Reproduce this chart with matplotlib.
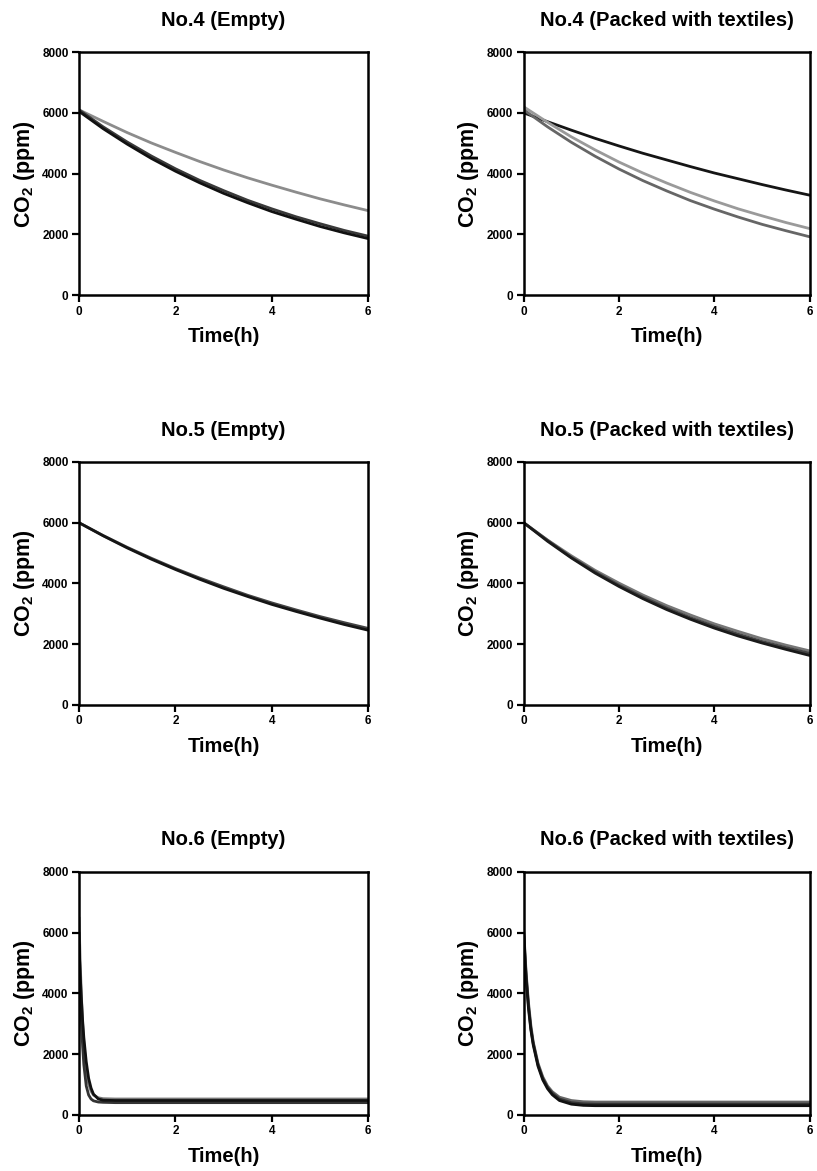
import matplotlib
matplotlib.use("Agg")
import matplotlib.pyplot as plt

plt.rcParams["font.family"] = ["Liberation Sans", "DejaVu Sans"]
plt.rcParams["font.weight"] = "bold"
plt.rcParams["mathtext.fontset"] = "custom"
plt.rcParams["mathtext.rm"] = "Liberation Sans:bold"
plt.rcParams["mathtext.bf"] = "Liberation Sans:bold"
plt.rcParams["mathtext.it"] = "Liberation Sans:bold"
plt.rcParams["mathtext.default"] = "bf"

# time grids (h)
t_half = [0, 0.5, 1, 1.5, 2, 2.5, 3, 3.5, 4, 4.5, 5, 5.5, 6]
t_fast6e = [0, 0.025, 0.05, 0.075, 0.1, 0.15, 0.2, 0.25, 0.3, 0.4, 0.5, 0.75, 1, 2, 4, 6]
t_fast6p = [0, 0.05, 0.1, 0.15, 0.2, 0.3, 0.4, 0.5, 0.6, 0.75, 1, 1.25, 1.5, 2, 3, 4, 6]

# No.4 empty
no4e_gray = [6100, 5720, 5350, 5010, 4700, 4400, 4120, 3860, 3620, 3390, 3170, 2970, 2780]
no4e_dark = [6100, 5540, 5040, 4580, 4160, 3780, 3440, 3120, 2840, 2580, 2350, 2130, 1940]
no4e_black = [6050, 5480, 4970, 4500, 4080, 3700, 3350, 3040, 2750, 2500, 2260, 2050, 1860]

# No.4 packed with textiles
no4p_black = [6000, 5710, 5430, 5160, 4910, 4670, 4450, 4230, 4020, 3830, 3640, 3460, 3290]
no4p_light = [6200, 5690, 5210, 4780, 4380, 4020, 3690, 3380, 3100, 2840, 2610, 2390, 2190]
no4p_mid = [6100, 5540, 5030, 4570, 4150, 3770, 3430, 3110, 2830, 2570, 2330, 2120, 1920]

# No.5 empty
no5e_dark = [6000, 5580, 5190, 4830, 4490, 4180, 3890, 3610, 3360, 3130, 2910, 2710, 2520]
no5e_black = [6000, 5570, 5170, 4800, 4460, 4140, 3840, 3570, 3310, 3080, 2860, 2650, 2460]

# No.5 packed with textiles
no5p_gray = [6000, 5430, 4910, 4430, 4010, 3620, 3270, 2960, 2670, 2420, 2180, 1970, 1780]
no5p_dark = [6000, 5420, 4860, 4380, 3940, 3550, 3190, 2870, 2590, 2330, 2090, 1890, 1700]
no5p_black = [6000, 5390, 4840, 4340, 3900, 3500, 3140, 2820, 2530, 2270, 2040, 1830, 1630]

# No.6 empty
no6e_gray = [6500, 5000, 3900, 3000, 2350, 1500, 1020, 780, 650, 560, 530, 520, 520, 520, 520, 520]
no6e_dark = [6000, 4300, 3100, 2250, 1650, 950, 650, 520, 460, 420, 410, 400, 400, 400, 400, 400]
no6e_black = [5600, 4600, 3800, 3100, 2550, 1750, 1200, 880, 680, 520, 480, 470, 470, 470, 470, 470]

# No.6 packed with textiles
no6p_gray = [6100, 4700, 3700, 2950, 2400, 1700, 1250, 950, 760, 580, 470, 430, 420, 420, 420, 420, 420]
no6p_dark = [6000, 4600, 3600, 2850, 2350, 1650, 1200, 900, 710, 520, 400, 360, 350, 350, 350, 350, 350]
no6p_black = [5900, 4500, 3500, 2800, 2300, 1600, 1150, 860, 660, 470, 350, 310, 300, 300, 300, 300, 300]

panels = [
    ("No.4 (Empty)", t_half, [(no4e_gray, "#8c8c8c"), (no4e_dark, "#3a3a3a"), (no4e_black, "#111111")]),
    ("No.4 (Packed with textiles)", t_half, [(no4p_black, "#151515"), (no4p_light, "#9a9a9a"), (no4p_mid, "#666666")]),
    ("No.5 (Empty)", t_half, [(no5e_dark, "#444444"), (no5e_black, "#151515")]),
    ("No.5 (Packed with textiles)", t_half, [(no5p_gray, "#777777"), (no5p_dark, "#444444"), (no5p_black, "#1a1a1a")]),
    ("No.6 (Empty)", t_fast6e, [(no6e_gray, "#777777"), (no6e_dark, "#333333"), (no6e_black, "#111111")]),
    ("No.6 (Packed with textiles)", t_fast6p, [(no6p_gray, "#666666"), (no6p_dark, "#333333"), (no6p_black, "#111111")]),
]

# axes rectangles in figure fractions
lefts = [0.0967, 0.641]
widths = [0.354, 0.350]
bottoms = [0.748, 0.398, 0.048]
height = 0.2075

fig = plt.figure(figsize=(8.17, 11.71), dpi=100)

for i, (title, t, curves) in enumerate(panels):
    row, col = divmod(i, 2)
    ax = fig.add_axes([lefts[col], bottoms[row], widths[col], height])
    for y, c in curves:
        ax.plot(t, y, color=c, lw=2, solid_capstyle="round")
    ax.set_xlim(0, 6)
    ax.set_ylim(0, 8000)
    ax.set_xticks([0, 2, 4, 6])
    ax.set_yticks([0, 2000, 4000, 6000, 8000])
    ax.tick_params(direction="out", length=5, width=1.6, labelsize=8.5, pad=2.5)
    for lab in ax.get_xticklabels() + ax.get_yticklabels():
        lab.set_fontweight("bold")
    for s in ax.spines.values():
        s.set_linewidth(1.8)
    ax.set_title(title, fontsize=14.5, fontweight="bold", pad=19)
    ax.set_xlabel("Time(h)", fontsize=14.5, fontweight="bold", labelpad=7)
    ax.set_ylabel("CO$_2$ (ppm)", fontsize=15.5, fontweight="bold", labelpad=4)

fig.savefig("out.png", dpi=100)
